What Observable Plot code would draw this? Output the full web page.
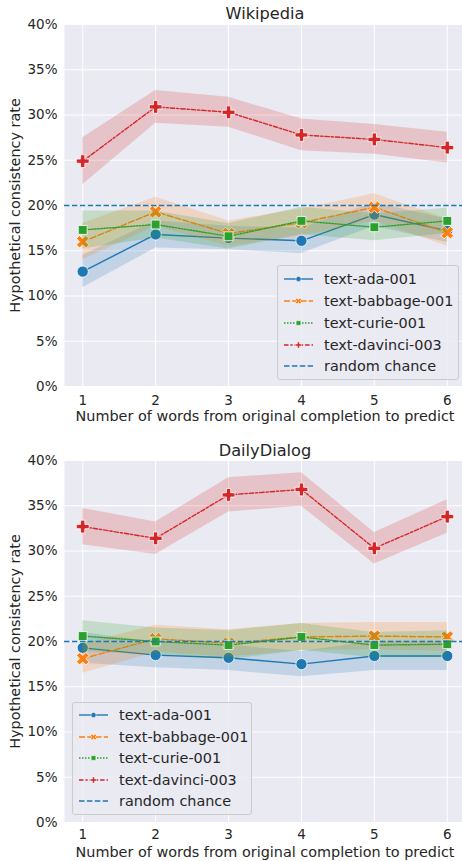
<!DOCTYPE html>
<html>
<head>
<meta charset="utf-8">
<script src="https://cdn.jsdelivr.net/npm/d3@7"></script>
<script src="https://cdn.jsdelivr.net/npm/@observablehq/plot@0.6"></script>
<style>
  html, body { margin: 0; padding: 0; background: #ffffff; overflow: hidden; }
  body { width: 462px; height: 861px; position: relative; font-family: "DejaVu Sans", sans-serif; color: #262626; }
  .panel { position: relative; width: 462px; }
  .panel svg { display: block; overflow: hidden; }
  .legend { position: absolute; box-sizing: border-box; background: rgba(234,234,242,0.8); border: 1px solid #cccccc; border-radius: 3px; }
  .legend .row { position: absolute; left: 0; height: 20px; }
  .legend .row span { position: absolute; left: 46px; font-size: 14.4px; white-space: nowrap; line-height: 20px; top: 0; }
</style>
</head>
<body>
<div id="chart"></div>
<script>
// ---- data ----
const steps = [1, 2, 3, 4, 5, 6];
const models = ["text-ada-001", "text-babbage-001", "text-curie-001", "text-davinci-003"];
const colors = ["#1f77b4", "#ff7f0e", "#2ca02c", "#d62728"];
const randomChance = 0.20;
const yTicks = [0, 0.05, 0.10, 0.15, 0.20, 0.25, 0.30, 0.35, 0.40];

// Wikipedia (percent) and CI half-widths
const wikiAda      = [12.7, 16.8, 16.4, 16.1, 19.0, 17.2];
const wikiAdaErr   = [1.8, 1.5, 1.3, 1.4, 1.3, 1.3];
const wikiBabbage  = [16.0, 19.3, 16.9, 18.1, 19.8, 17.0];
const wikiBabbageErr = [2.0, 1.6, 1.4, 1.5, 1.5, 1.5];
const wikiCurie    = [17.3, 17.9, 16.6, 18.3, 17.6, 18.3];
const wikiCurieErr = [2.1, 1.5, 1.4, 1.5, 1.5, 1.4];
const wikiDavinci  = [24.9, 30.9, 30.3, 27.8, 27.3, 26.4];
const wikiDavinciErr = [2.6, 1.8, 1.65, 1.75, 1.65, 1.7];

// DailyDialog (percent) and CI half-widths
const dailyAda      = [19.3, 18.5, 18.2, 17.5, 18.4, 18.4];
const dailyAdaErr   = [1.7, 1.4, 1.4, 1.4, 1.6, 1.6];
const dailyBabbage  = [18.1, 20.3, 19.8, 20.5, 20.6, 20.5];
const dailyBabbageErr = [1.6, 1.5, 1.5, 1.5, 1.5, 1.6];
const dailyCurie    = [20.6, 20.0, 19.6, 20.5, 19.6, 19.7];
const dailyCurieErr = [1.7, 1.5, 1.6, 1.5, 1.4, 1.5];
const dailyDavinci  = [32.7, 31.4, 36.2, 36.8, 30.3, 33.8];
const dailyDavinciErr = [2.0, 1.8, 1.9, 1.85, 1.75, 1.85];

// ---- styles ----
const dashes = ["none", "6,2.25", "1.5,1.5", "4.5,1.9,2.25,1.9"];
const FONT = "DejaVu Sans";
const TEXT = "#262626";
const BG = "#eaeaf2";

// filled "X" marker (rotated filled plus)
const symbolX = {
  draw(context, size) {
    const r = Math.sqrt(size / 5) / 2;
    const pts = [[-3*r,-r],[-r,-r],[-r,-3*r],[r,-3*r],[r,-r],[3*r,-r],[3*r,r],[r,r],[r,3*r],[-r,3*r],[-r,r],[-3*r,r]];
    const c = Math.SQRT1_2;
    pts.forEach(([x, y], i) => {
      const X = (x - y) * c, Y = (x + y) * c;
      if (i) context.lineTo(X, Y); else context.moveTo(X, Y);
    });
    context.closePath();
  }
};
const symbols = [d3.symbolCircle, symbolX, d3.symbolSquare, d3.symbolCross];
const markerR = [5.6, 5.6, 5.0, 5.4];

function buildRows(means, errs) {
  return models.flatMap((m, i) => steps.map((s, j) => ({
    model: m, step: s,
    rate: means[i][j] / 100,
    lo: (means[i][j] - errs[i][j]) / 100,
    hi: (means[i][j] + errs[i][j]) / 100
  })));
}

function panel({title, rows, height, marginTop, marginBottom, tickPad, xLabelDy, titleDy}) {
  const seriesMarks = models.flatMap((m, i) => {
    const d = rows.filter(r => r.model === m);
    return [
      Plot.areaY(d, {x: "step", y1: "lo", y2: "hi", fill: colors[i], fillOpacity: 0.2, curve: "linear"}),
      Plot.line(d, {x: "step", y: "rate", stroke: colors[i], strokeWidth: 1.4, strokeDasharray: dashes[i]}),
      Plot.dot(d, {x: "step", y: "rate", fill: colors[i], stroke: "white", strokeWidth: 0.8, symbol: () => symbols[i], r: markerR[i]})
    ];
  });
  return Plot.plot({
    width: 462,
    height,
    marginTop,
    marginBottom,
    marginLeft: 64,
    marginRight: -3,
    style: {background: "transparent", fontFamily: FONT, color: TEXT, overflow: "hidden"},
    x: {domain: [0.75, 6.25], label: null},
    y: {domain: [0, 0.4], label: null},
    symbol: {domain: symbols, range: symbols},
    marks: [
      Plot.frame({fill: BG, stroke: null}),
      Plot.gridX({ticks: steps, stroke: "white", strokeOpacity: 1, strokeWidth: 1}),
      Plot.gridY({ticks: yTicks, stroke: "white", strokeOpacity: 1, strokeWidth: 1}),
      ...seriesMarks,
      Plot.ruleY([randomChance], {stroke: "#1f77b4", strokeWidth: 1.4, strokeDasharray: "5.5,2.4"}),
      Plot.axisX({ticks: steps, tickSize: 0, tickPadding: tickPad, fontSize: 13.5, tickFormat: d => d, label: null, fill: TEXT}),
      Plot.axisY({ticks: yTicks, tickSize: 0, tickPadding: 7, fontSize: 13.5, tickFormat: d3.format(".0%"), label: null, fill: TEXT}),
      Plot.text([title], {frameAnchor: "top", dy: titleDy, lineAnchor: "middle", textAnchor: "middle", fontSize: 16.2, fill: TEXT}),
      Plot.text(["Number of words from original completion to predict"], {frameAnchor: "bottom", dy: xLabelDy, lineAnchor: "middle", textAnchor: "middle", fontSize: 14.4, fill: TEXT}),
      Plot.text(["Hypothetical consistency rate"], {frameAnchor: "left", dx: -49, rotate: -90, lineAnchor: "middle", textAnchor: "middle", fontSize: 14.4, fill: TEXT})
    ]
  });
}

function legend(container, {left, top, width, height, rowYs}) {
  const box = document.createElement("div");
  box.className = "legend";
  Object.assign(box.style, {left: left + "px", top: top + "px", width: width + "px", height: height + "px"});
  const entries = models.map((m, i) => ({label: m, color: colors[i], dash: dashes[i], sym: symbols[i], r: 2.6}))
    .concat([{label: "random chance", color: "#1f77b4", dash: "5.5,2.4", sym: null}]);
  entries.forEach((e, k) => {
    const row = document.createElement("div");
    row.className = "row";
    row.style.top = (rowYs[k] - 10) + "px";
    row.style.width = width + "px";
    const svg = d3.create("svg").attr("width", 40).attr("height", 20)
      .style("position", "absolute").style("left", "0px").style("top", "0px");
    svg.append("line").attr("x1", 6).attr("x2", 35).attr("y1", 10).attr("y2", 10)
      .attr("stroke", e.color).attr("stroke-width", 1.4)
      .attr("stroke-dasharray", e.dash === "none" ? null : e.dash);
    if (e.sym) {
      svg.append("path").attr("transform", "translate(20.5,10)")
        .attr("d", d3.symbol(e.sym, Math.PI * e.r * e.r)())
        .attr("fill", e.color).attr("stroke", "white").attr("stroke-width", 0.5);
    }
    row.appendChild(svg.node());
    const span = document.createElement("span");
    span.textContent = e.label;
    row.appendChild(span);
    box.appendChild(row);
  });
  container.appendChild(box);
}

const root = document.getElementById("chart");

const wikiRows = buildRows([wikiAda, wikiBabbage, wikiCurie, wikiDavinci],
                           [wikiAdaErr, wikiBabbageErr, wikiCurieErr, wikiDavinciErr]);
const dailyRows = buildRows([dailyAda, dailyBabbage, dailyCurie, dailyDavinci],
                            [dailyAdaErr, dailyBabbageErr, dailyCurieErr, dailyDavinciErr]);

const p1 = document.createElement("div"); p1.className = "panel";
p1.appendChild(panel({title: "Wikipedia", rows: wikiRows, height: 430, marginTop: 24, marginBottom: 44, tickPad: 8.5, xLabelDy: 29.8, titleDy: -10.7}));
legend(p1, {left: 277, top: 265, width: 182, height: 115, rowYs: [13, 35, 57, 79, 100]});
root.appendChild(p1);

const p2 = document.createElement("div"); p2.className = "panel";
p2.appendChild(panel({title: "DailyDialog", rows: dailyRows, height: 431, marginTop: 30, marginBottom: 39, tickPad: 7, xLabelDy: 29.7, titleDy: -10}));
legend(p2, {left: 72, top: 272, width: 180, height: 113, rowYs: [12, 34, 55, 77, 98]});
root.appendChild(p2);
</script>
</body>
</html>
